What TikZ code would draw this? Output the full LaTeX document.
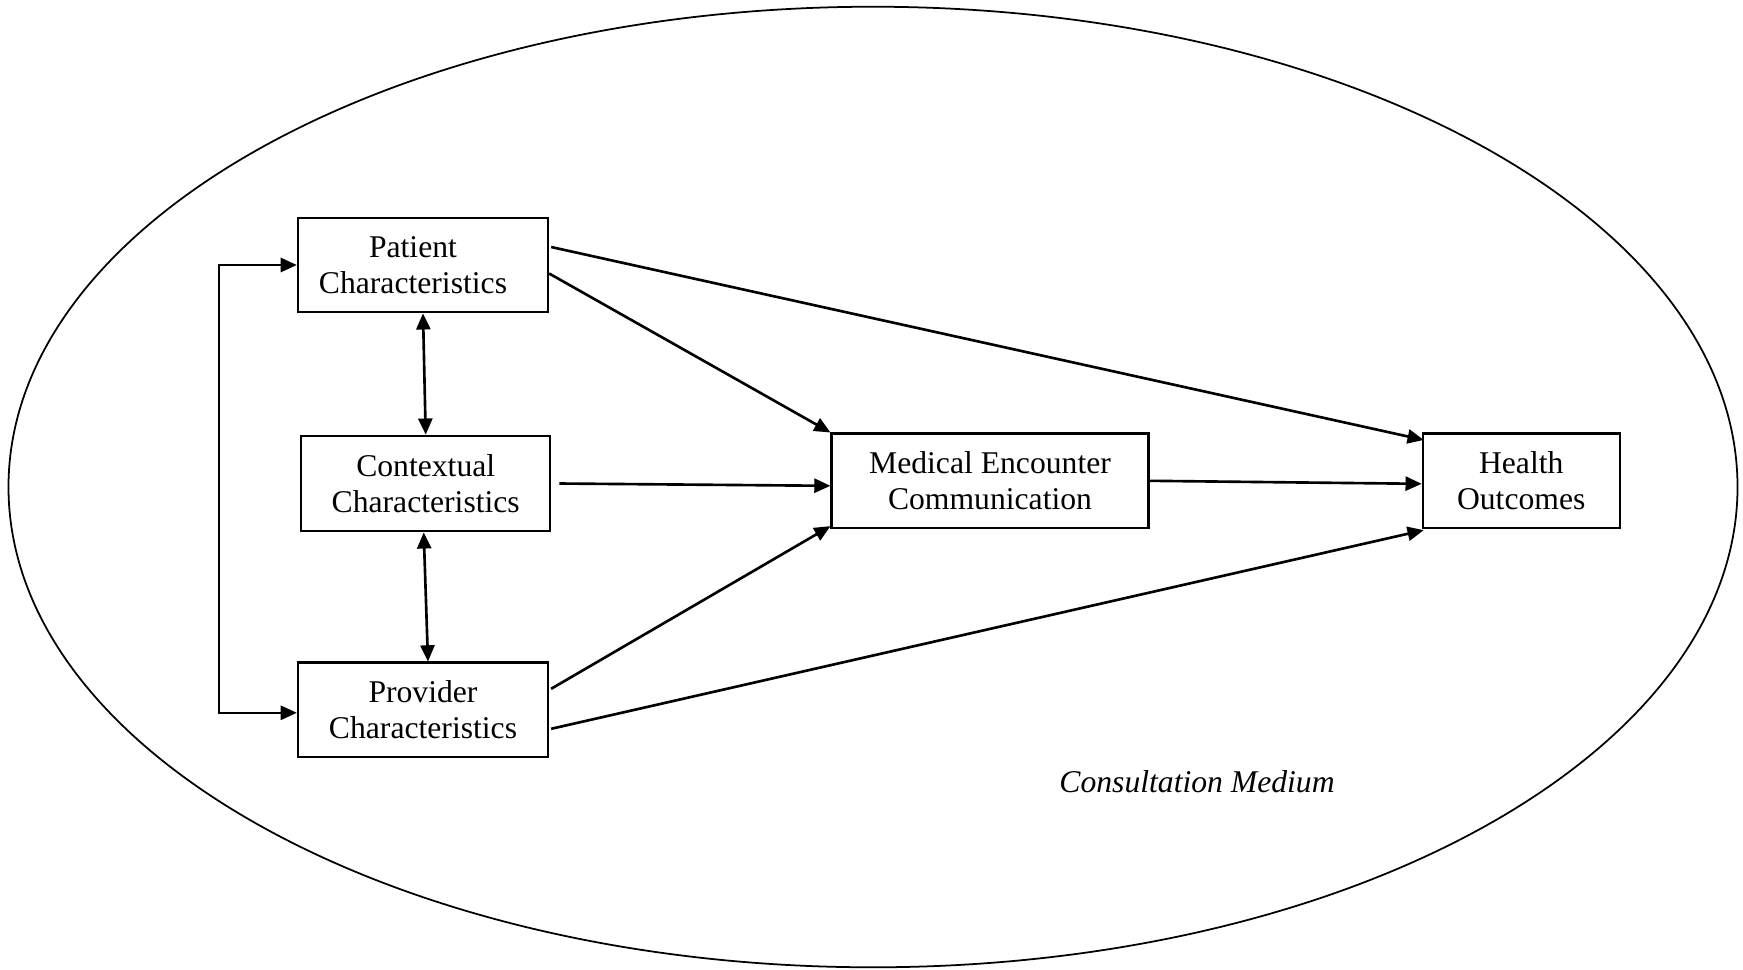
\documentclass[tikz,border=0pt]{standalone}
\usepackage{fontspec}
\setmainfont{Liberation Serif}
\usetikzlibrary{arrows.meta,calc}
\begin{document}
\begin{tikzpicture}[x=0.01cm,y=-0.01cm,
  box/.style={draw,line width=0.6pt,align=center,inner sep=0pt,minimum height=0.945cm,font=\fontsize{9}{10.2}\selectfont},
  arr/.style={line width=0.75pt,-{Triangle[length=4.6pt,width=4pt]}},
  dbl/.style={line width=0.75pt,{Triangle[length=4.6pt,width=4pt]}-{Triangle[length=4.6pt,width=4pt]}}]
\useasboundingbox (0,0) rectangle (1743,969);
\draw[line width=0.5pt] (873,487) ellipse [x radius=8.64cm, y radius=4.80cm];
\node[box,minimum width=2.50cm] (pat) at (423,265) {Patient\hspace*{0.2cm}\\Characteristics\hspace*{0.2cm}};
\node[box,minimum width=2.49cm,minimum height=0.956cm] (ctx) at (425.7,483.5) {Contextual\\Characteristics};
\node[box,minimum width=2.50cm] (prov) at (423,709.8) {Provider\\Characteristics};
\node[box,minimum width=3.168cm] (med) at (990,480.8) {Medical Encounter\\Communication};
\node[box,minimum width=1.968cm] (hea) at (1521.2,480.8) {Health\\Outcomes};
\node[font=\fontsize{9}{10.2}\selectfont\itshape] (cm) at (1197,781.5) {Consultation Medium};
\draw[dbl] (pat.west) -- ++(-78,0) |- ($(prov.west)+(0,3)$);
\draw[dbl] (pat.south) -- (ctx.north);
\draw[dbl] ($(ctx.south)+(-2,0)$) -- ($(prov.north)+(5,0)$);
\draw[arr] ($(pat.east)+(0,8.5)$) -- (med.north west);
\draw[arr] ($(pat.east)+(2,-18)$) -- ($(hea.north west)+(2,7.5)$);
\draw[arr] ($(ctx.east)+(8,0)$) -- ($(med.west)+(0,5)$);
\draw[arr] (med.east) -- ($(hea.west)+(0,3)$);
\draw[arr] ($(prov.east)+(2,-21)$) -- ($(med.south west)+(0,-3)$);
\draw[arr] ($(prov.east)+(2,19)$) -- ($(hea.south west)+(2,1)$);
\end{tikzpicture}
\end{document}
